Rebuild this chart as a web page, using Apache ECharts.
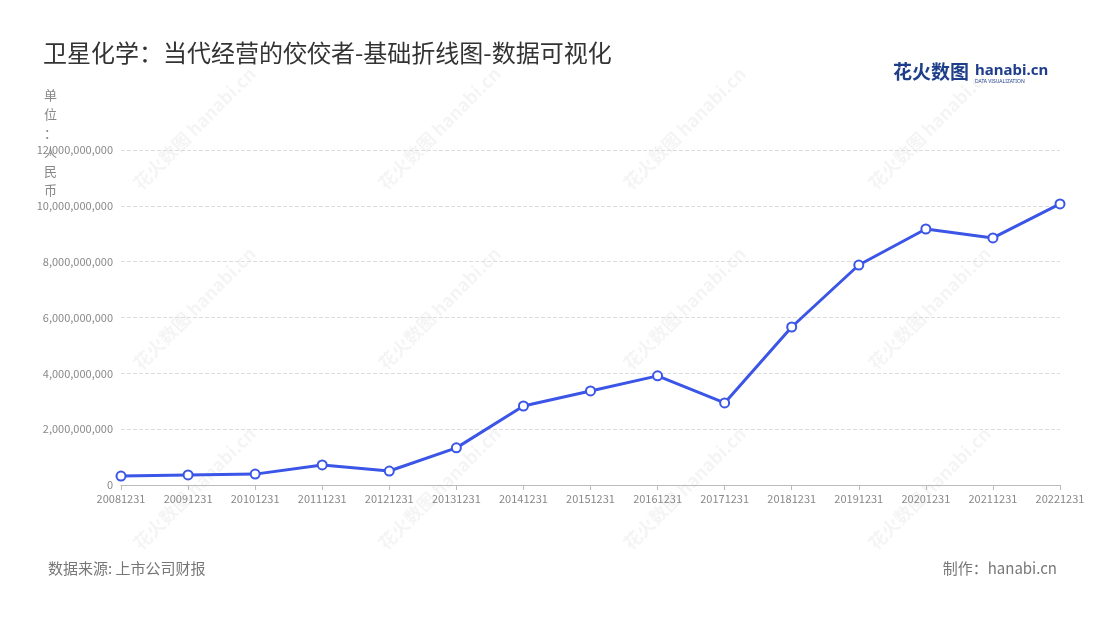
<!DOCTYPE html>
<html>
<head>
<meta charset="utf-8">
<script src="https://cdn.jsdelivr.net/npm/echarts@6/dist/echarts.min.js"></script>
<style>html,body{margin:0;padding:0;background:#fff}#main{width:1100px;height:620px}</style>
</head>
<body>
<div id="main"></div>
<script>
var years = ['20081231','20091231','20101231','20111231','20121231','20131231','20141231','20151231','20161231','20171231','20181231','20191231','20201231','20211231','20221231'];
var revenue = [320000000,360000000,390000000,720000000,500000000,1330000000,2830000000,3370000000,3910000000,2940000000,5660000000,7880000000,9170000000,8850000000,10070000000];
var yTicks = [0, 2000000000, 4000000000, 6000000000, 8000000000, 10000000000, 12000000000];

var chart = echarts.init(document.getElementById('main'));

// 水印
var marks = [];
[[130,180],[375,180],[620,180],[865,180],[130,360],[375,360],[620,360],[865,360],[130,540],[375,540],[620,540],[865,540]].forEach(function(p){
    marks.push({type:'text', x:p[0], y:p[1], rotation:Math.PI/4, z:-1,
        style:{text:'花火数图 hanabi.cn', fill:'rgba(0,0,0,0.045)', font:'bold 18px "Noto Sans CJK SC"'}});
});
marks.push({type:'text', left:893, top:62, style:{text:'花火数图', fill:'#1f3e8a', font:'bold 19px "Noto Sans CJK SC"'}});
marks.push({type:'text', left:975, top:63, style:{text:'hanabi.cn', fill:'#1f3e8a', font:'bold 15px "Noto Sans"'}});
marks.push({type:'text', left:975, top:79, style:{text:'DATA VISUALIZATION', fill:'#1f3e8a', font:'5px "Noto Sans"'}});
marks.push({type:'text', left:44, top:86, style:{text:'单\n位\n：\n人\n民\n币', fill:'#888', font:'13px "Noto Sans CJK SC"', lineHeight:19, align:'center'}});

var option = {
    textStyle: {fontFamily: '"Noto Sans CJK SC"'},
    title: [
        {text: '卫星化学：当代经营的佼佼者-基础折线图-数据可视化', left: 38, top: 36,
         textStyle: {fontSize: 24, fontWeight: 'normal', color: '#333'}},
        {text: '数据来源: 上市公司财报', left: 43, top: 556,
         textStyle: {fontSize: 15, fontWeight: 'normal', color: '#777'}},
        {text: '制作：hanabi.cn', right: 38, top: 556,
         textStyle: {fontSize: 15, fontWeight: 'normal', color: '#777'}}
    ],
    graphic: marks,
    grid: {left: 121, right: 40, top: 150, bottom: 135},
    xAxis: {
        type: 'category', data: years, boundaryGap: false,
        axisLine: {lineStyle: {color: '#bbb'}},
        axisTick: {show: true, alignWithLabel: true},
        axisLabel: {color: '#888', fontSize: 11, interval: 0}
    },
    yAxis: {
        type: 'value', min: 0, max: 12000000000, interval: 2000000000,
        axisLine: {show: false}, axisTick: {show: false},
        axisLabel: {color: '#888', fontSize: 11,
            formatter: function(v){ return yTicks.indexOf(v) >= 0 ? v.toLocaleString('en-US') : ''; }},
        splitLine: {lineStyle: {type: 'dashed', color: '#ddd'}}
    },
    series: [{
        type: 'line', data: revenue,
        symbol: 'circle', symbolSize: 9,
        lineStyle: {color: '#3b55e6', width: 3},
        itemStyle: {color: '#fff', borderColor: '#3b55e6', borderWidth: 2}
    }]
};
chart.setOption(option);
</script>
</body>
</html>
